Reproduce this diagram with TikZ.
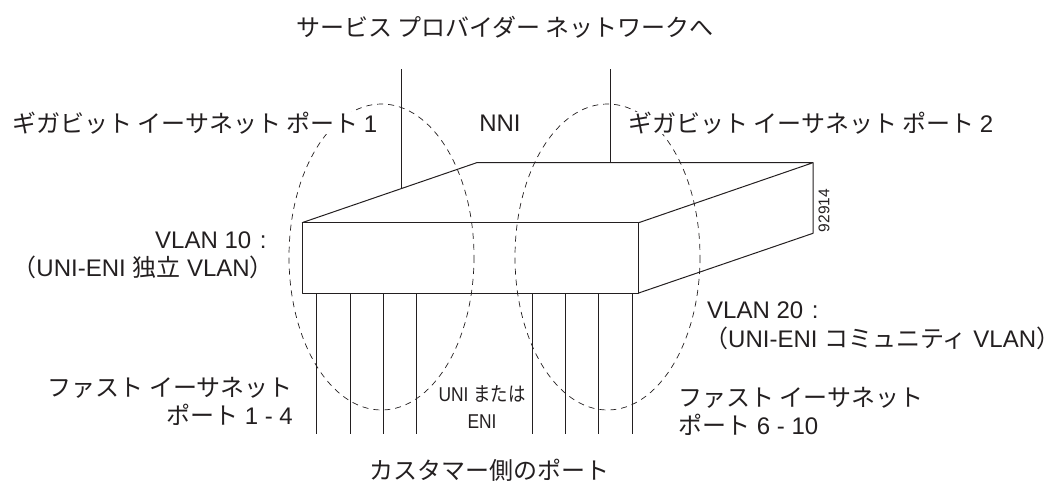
\documentclass[tikz,border=0pt]{standalone}
\usepackage{fontspec}
\setmainfont{Liberation Sans}
\newfontfamily\jf{Noto Sans CJK JP}
\definecolor{ink}{HTML}{231F20}
\tikzset{
  lbl/.style={text=ink,font=\fontsize{24}{28}\selectfont,inner sep=0pt,anchor=west},
  lblr/.style={lbl,anchor=east},
  lblc/.style={lbl,anchor=center},
  wire/.style={draw=ink,line width=0.9pt},
  box/.style={draw=ink,line width=1pt,line join=round},
  zone/.style={draw=ink,line width=0.7pt,dash pattern=on 6pt off 5pt}
}
\begin{document}
\begin{tikzpicture}[x=1pt,y=-1pt]
\useasboundingbox (0,0) rectangle (1052,481);
% switch body
\coordinate (fl) at (302,222.7);
\coordinate (fr) at (638.7,222.7);
\coordinate (br) at (638.7,293);
\coordinate (bl) at (302,293);
\coordinate (tb) at (476.7,162.7);
\coordinate (tr) at (813,162.7);
\coordinate (lr) at (813,233.3);
\draw[box] (fl) -- (fr) -- (br) -- (bl) -- cycle;
\draw[box] (fl) -- (tb) -- (tr) -- (fr);
\draw[box] (tr) -- (lr) -- (br);
% uplinks
\coordinate (u1t) at (401,69.5);
\coordinate (u1b) at (401,188);
\coordinate (u2t) at (610.7,69.5);
\coordinate (u2b) at (610.7,162.7);
\draw[wire] (u1t) -- (u1b);
\draw[wire] (u2t) -- (u2b);
% access ports
\foreach \n/\x in {a/316.7,b/350,c/383,d/416.3,e/532.3,f/565.7,g/598.7,h/632}{
  \coordinate (p\n t) at (\x,293);
  \coordinate (p\n b) at (\x,434.3);
  \draw[wire] (p\n t) -- (p\n b);
}
% VLAN zones
\draw[zone] (381.5,257) ellipse [x radius=92.5,y radius=153];
\draw[zone] (607.5,257) ellipse [x radius=92.5,y radius=153];
% labels
\node[lblc] (title) at (505,27) {\jf サービス プロバイダー ネットワークへ};
\node[lbl,fill=white] (gp1) at (12,123) {\jf ギガビット イーサネット ポート {\rmfamily 1}};
\node[lblc] (nni) at (500,123) {NNI};
\node[lbl,fill=white] (gp2) at (628,123) {\jf ギガビット イーサネット ポート {\rmfamily 2}};
\node[lbl] (v10) at (155,240) {VLAN 10 \kern2pt:};
\node[lblr] (v10b) at (274,267) {{\jf （}UNI-ENI {\jf 独立} VLAN{\jf ）}};
\node[lbl] (v20) at (707,310) {VLAN 20 \kern2pt:};
\node[lbl] (v20b) at (704,338) {{\jf （}UNI-ENI {\jf コミュニティ} VLAN{\jf ）}\kern-12pt};
\node[lblr] (fe1) at (293,388) {\jf ファスト イーサネット};
\node[lblr] (fe1b) at (293,415) {{\jf ポート} 1 - 4};
\node[lbl] (fe2) at (678,398) {\jf ファスト イーサネット};
\node[lbl] (fe2b) at (678,425) {{\jf ポート} 6 - 10};
\node[lblc,font=\fontsize{20}{24}\selectfont,xscale=.87] (uni) at (482,394) {UNI {\jf または}};
\node[lblc,font=\fontsize{20}{24}\selectfont,xscale=.87] (eni) at (482,422) {ENI};
\node[lblc] (cust) at (489,470) {\jf カスタマー側のポート};
\node[lblc,rotate=90,font=\fontsize{15.5}{18}\selectfont] (num) at (824,210.5) {92914};
\end{tikzpicture}
\end{document}
